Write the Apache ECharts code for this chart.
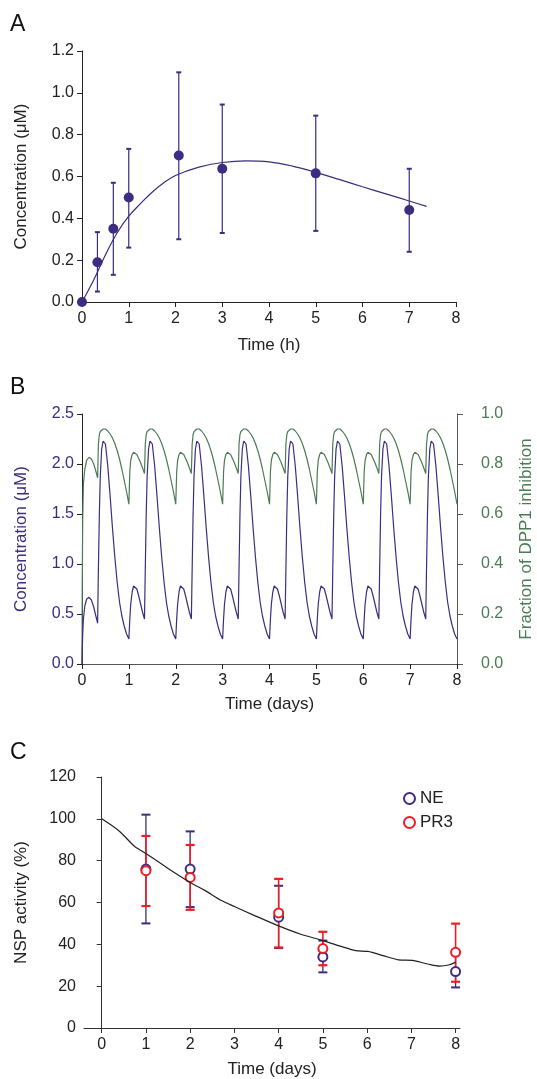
<!DOCTYPE html>
<html><head><meta charset="utf-8">
<script src="https://cdn.jsdelivr.net/npm/echarts@6/dist/echarts.min.js"></script>
<style>html,body{margin:0;padding:0;background:#fff}#c{width:537px;height:1079px}</style>
</head><body><div id="c"></div>
<script>
// ---------- Panel A ----------
const aTime = [0, 0.33, 0.67, 1, 2.07, 3, 5, 7];
const aConc = [0, 0.19, 0.35, 0.50, 0.70, 0.637, 0.615, 0.44];
const aLow  = [null, 0.05, 0.13, 0.26, 0.30, 0.33, 0.34, 0.24];
const aHigh = [null, 0.334, 0.57, 0.732, 1.098, 0.944, 0.891, 0.637];
const aFitTime = [0, 0.25, 0.5, 0.75, 1, 1.25, 1.5, 1.75, 2, 2.5, 3, 3.5, 4, 4.5, 5, 5.5, 6, 6.5, 7, 7.37];
const aFitConc = [0, 0.105, 0.225, 0.33, 0.41, 0.47, 0.525, 0.57, 0.605, 0.645, 0.667, 0.675, 0.67, 0.65, 0.62, 0.586, 0.551, 0.517, 0.483, 0.457];

// ---------- Panel B ----------
const bTime = [
 0, 0.005, 0.015, 0.03, 0.06, 0.10, 0.15, 0.20, 0.25, 0.29, 0.333, 0.35, 0.37, 0.39, 0.42, 0.45, 0.475, 0.5, 0.55, 0.6, 0.65, 0.7, 0.75, 0.8, 0.85, 0.9, 0.95,
 1, 1.02, 1.04, 1.07, 1.1, 1.13, 1.17, 1.21, 1.25, 1.29, 1.333, 1.35, 1.37, 1.39, 1.42, 1.45, 1.475, 1.5, 1.55, 1.6, 1.65, 1.7, 1.75, 1.8, 1.85, 1.9, 1.95,
 2, 2.02, 2.04, 2.07, 2.1, 2.13, 2.17, 2.21, 2.25, 2.29, 2.333, 2.35, 2.37, 2.39, 2.42, 2.45, 2.475, 2.5, 2.55, 2.6, 2.65, 2.7, 2.75, 2.8, 2.85, 2.9, 2.95,
 3, 3.02, 3.04, 3.07, 3.1, 3.13, 3.17, 3.21, 3.25, 3.29, 3.333, 3.35, 3.37, 3.39, 3.42, 3.45, 3.475, 3.5, 3.55, 3.6, 3.65, 3.7, 3.75, 3.8, 3.85, 3.9, 3.95,
 4, 4.02, 4.04, 4.07, 4.1, 4.13, 4.17, 4.21, 4.25, 4.29, 4.333, 4.35, 4.37, 4.39, 4.42, 4.45, 4.475, 4.5, 4.55, 4.6, 4.65, 4.7, 4.75, 4.8, 4.85, 4.9, 4.95,
 5, 5.02, 5.04, 5.07, 5.1, 5.13, 5.17, 5.21, 5.25, 5.29, 5.333, 5.35, 5.37, 5.39, 5.42, 5.45, 5.475, 5.5, 5.55, 5.6, 5.65, 5.7, 5.75, 5.8, 5.85, 5.9, 5.95,
 6, 6.02, 6.04, 6.07, 6.1, 6.13, 6.17, 6.21, 6.25, 6.29, 6.333, 6.35, 6.37, 6.39, 6.42, 6.45, 6.475, 6.5, 6.55, 6.6, 6.65, 6.7, 6.75, 6.8, 6.85, 6.9, 6.95,
 7, 7.02, 7.04, 7.07, 7.1, 7.13, 7.17, 7.21, 7.25, 7.29, 7.333, 7.35, 7.37, 7.39, 7.42, 7.45, 7.475, 7.5, 7.55, 7.6, 7.65, 7.7, 7.75, 7.8, 7.85, 7.9, 7.95,
 8
];
const bConc = [
 0, 0.12, 0.30, 0.45, 0.58, 0.65, 0.667, 0.64, 0.57, 0.49, 0.41, 0.95, 1.5, 1.88, 2.15, 2.23, 2.24, 2.2, 1.98, 1.68, 1.36, 1.07, 0.82, 0.62, 0.48, 0.38, 0.30,
 0.25, 0.45, 0.60, 0.72, 0.78, 0.79, 0.75, 0.68, 0.60, 0.52, 0.45, 0.95, 1.5, 1.88, 2.15, 2.23, 2.24, 2.2, 1.98, 1.68, 1.36, 1.07, 0.82, 0.62, 0.48, 0.38, 0.30,
 0.25, 0.45, 0.60, 0.72, 0.78, 0.79, 0.75, 0.68, 0.60, 0.52, 0.45, 0.95, 1.5, 1.88, 2.15, 2.23, 2.24, 2.2, 1.98, 1.68, 1.36, 1.07, 0.82, 0.62, 0.48, 0.38, 0.30,
 0.25, 0.45, 0.60, 0.72, 0.78, 0.79, 0.75, 0.68, 0.60, 0.52, 0.45, 0.95, 1.5, 1.88, 2.15, 2.23, 2.24, 2.2, 1.98, 1.68, 1.36, 1.07, 0.82, 0.62, 0.48, 0.38, 0.30,
 0.25, 0.45, 0.60, 0.72, 0.78, 0.79, 0.75, 0.68, 0.60, 0.52, 0.45, 0.95, 1.5, 1.88, 2.15, 2.23, 2.24, 2.2, 1.98, 1.68, 1.36, 1.07, 0.82, 0.62, 0.48, 0.38, 0.30,
 0.25, 0.45, 0.60, 0.72, 0.78, 0.79, 0.75, 0.68, 0.60, 0.52, 0.45, 0.95, 1.5, 1.88, 2.15, 2.23, 2.24, 2.2, 1.98, 1.68, 1.36, 1.07, 0.82, 0.62, 0.48, 0.38, 0.30,
 0.25, 0.45, 0.60, 0.72, 0.78, 0.79, 0.75, 0.68, 0.60, 0.52, 0.45, 0.95, 1.5, 1.88, 2.15, 2.23, 2.24, 2.2, 1.98, 1.68, 1.36, 1.07, 0.82, 0.62, 0.48, 0.38, 0.30,
 0.25, 0.45, 0.60, 0.72, 0.78, 0.79, 0.75, 0.68, 0.60, 0.52, 0.45, 0.95, 1.5, 1.88, 2.15, 2.23, 2.24, 2.2, 1.98, 1.68, 1.36, 1.07, 0.82, 0.62, 0.48, 0.38, 0.30,
 0.25
];
const bInhib = [
 0, 0.30, 0.58, 0.72, 0.78, 0.815, 0.827, 0.82, 0.80, 0.775, 0.745, 0.88, 0.918, 0.93, 0.937, 0.94, 0.941, 0.94, 0.932, 0.92, 0.904, 0.882, 0.854, 0.82, 0.78, 0.735, 0.69,
 0.639, 0.77, 0.815, 0.838, 0.847, 0.847, 0.838, 0.822, 0.805, 0.785, 0.762, 0.88, 0.918, 0.93, 0.937, 0.94, 0.941, 0.94, 0.932, 0.92, 0.904, 0.882, 0.854, 0.82, 0.78, 0.735, 0.69,
 0.639, 0.77, 0.815, 0.838, 0.847, 0.847, 0.838, 0.822, 0.805, 0.785, 0.762, 0.88, 0.918, 0.93, 0.937, 0.94, 0.941, 0.94, 0.932, 0.92, 0.904, 0.882, 0.854, 0.82, 0.78, 0.735, 0.69,
 0.639, 0.77, 0.815, 0.838, 0.847, 0.847, 0.838, 0.822, 0.805, 0.785, 0.762, 0.88, 0.918, 0.93, 0.937, 0.94, 0.941, 0.94, 0.932, 0.92, 0.904, 0.882, 0.854, 0.82, 0.78, 0.735, 0.69,
 0.639, 0.77, 0.815, 0.838, 0.847, 0.847, 0.838, 0.822, 0.805, 0.785, 0.762, 0.88, 0.918, 0.93, 0.937, 0.94, 0.941, 0.94, 0.932, 0.92, 0.904, 0.882, 0.854, 0.82, 0.78, 0.735, 0.69,
 0.639, 0.77, 0.815, 0.838, 0.847, 0.847, 0.838, 0.822, 0.805, 0.785, 0.762, 0.88, 0.918, 0.93, 0.937, 0.94, 0.941, 0.94, 0.932, 0.92, 0.904, 0.882, 0.854, 0.82, 0.78, 0.735, 0.69,
 0.639, 0.77, 0.815, 0.838, 0.847, 0.847, 0.838, 0.822, 0.805, 0.785, 0.762, 0.88, 0.918, 0.93, 0.937, 0.94, 0.941, 0.94, 0.932, 0.92, 0.904, 0.882, 0.854, 0.82, 0.78, 0.735, 0.69,
 0.639, 0.77, 0.815, 0.838, 0.847, 0.847, 0.838, 0.822, 0.805, 0.785, 0.762, 0.88, 0.918, 0.93, 0.937, 0.94, 0.941, 0.94, 0.932, 0.92, 0.904, 0.882, 0.854, 0.82, 0.78, 0.735, 0.69,
 0.639
];

// ---------- Panel C ----------
const cDays = [1, 2, 4, 5, 8];
const neMean = [76, 76, 53, 34, 27];
const neLow  = [50, 57.8, 38.2, 26.6, 19.4];
const neHigh = [102, 94, 68, 41.8, 35];
const pr3Mean = [75.2, 72, 55, 38, 36.2];
const pr3Low  = [58.3, 56.5, 38.5, 30, 22.1];
const pr3High = [91.8, 87.5, 71.3, 46, 49.9];
const cFitTime = [0, 0.4, 0.74, 1, 1.5, 2, 2.33, 2.72, 3, 3.42, 4, 4.5, 5, 5.43, 5.74, 6.02, 6.36, 6.71, 7.02, 7.37, 7.64, 7.84, 8];
const cFitAct  = [100, 94.1, 86.9, 83.4, 76.3, 69.6, 65.8, 60.8, 58.1, 54.1, 48.8, 44.8, 41.8, 38.9, 37.0, 36.6, 34.6, 32.6, 32.3, 30.6, 29.6, 30.1, 31.5];
const cXTicks = [0, 1, 2, 3, 4, 5, 6, 7, 8];

const PURPLE = '#3d2c80', GREEN = '#4b7b53', RED = '#ee1c24', INK = '#222';
const FONT = '"Liberation Sans", Arial, sans-serif';

function errBar(capW, color, lw, capLw) {
  return function (params, api) {
    const x = api.value(0), lo = api.value(1), hi = api.value(2);
    const p1 = api.coord([x, lo]), p2 = api.coord([x, hi]);
    return {type: 'group', children: [
      {type: 'line', shape: {x1: p1[0], y1: p1[1], x2: p2[0], y2: p2[1]}, style: {stroke: color, lineWidth: lw}},
      {type: 'line', shape: {x1: p1[0] - capW / 2, y1: p1[1], x2: p1[0] + capW / 2, y2: p1[1]}, style: {stroke: color, lineWidth: capLw}},
      {type: 'line', shape: {x1: p2[0] - capW / 2, y1: p2[1], x2: p2[0] + capW / 2, y2: p2[1]}, style: {stroke: color, lineWidth: capLw}}
    ]};
  };
}
const zip2 = (a, b) => a.map((v, i) => [v, b[i]]);
const zip3 = (a, b, c) => a.map((v, i) => [v, b[i], c[i]]);

const lbl = (color, margin, dec) => ({color: color, fontSize: 16, fontFamily: FONT, margin: margin,
  formatter: v => dec ? Number(v).toFixed(dec) : String(v)});
const nm = (color) => ({color: color, fontSize: 17, fontFamily: FONT});
const axLine = (c) => ({show: true, lineStyle: {color: c, width: 1}});
const tick = (c, len) => ({show: true, length: len || 5, lineStyle: {color: c}});

const option = {
  animation: false,
  textStyle: {fontFamily: FONT},
  grid: [
    {left: 82, top: 51, width: 374, height: 251, containLabel: false, outerBoundsMode: 'none'},
    {left: 82, top: 414, width: 375, height: 250, containLabel: false, outerBoundsMode: 'none'},
    {left: 84, top: 777, width: 376, height: 251, containLabel: false, outerBoundsMode: 'none'}
  ],
  xAxis: [
    {gridIndex: 0, type: 'value', min: 0, max: 8, interval: 1, axisLine: axLine(INK), axisTick: tick(INK), splitLine: {show: false},
     axisLabel: lbl(INK, 9), name: 'Time (h)', nameLocation: 'middle', nameGap: 35, nameTextStyle: nm(INK)},
    {gridIndex: 1, type: 'value', min: 0, max: 8, interval: 1, axisLine: axLine('#555'), axisTick: tick(INK), splitLine: {show: false},
     axisLabel: lbl(INK, 9), name: 'Time (days)', nameLocation: 'middle', nameGap: 32, nameTextStyle: nm(INK)},
    {gridIndex: 2, type: 'value', min: -0.4, max: 8.1, axisLine: axLine('#333'), splitLine: {show: false},
     axisTick: Object.assign(tick('#333'), {customValues: cXTicks}),
     axisLabel: Object.assign(lbl(INK, 9), {customValues: cXTicks}),
     name: 'Time (days)', nameLocation: 'middle', nameGap: 33, nameTextStyle: nm(INK)}
  ],
  yAxis: [
    {gridIndex: 0, type: 'value', min: 0, max: 1.2, interval: 0.2, axisLine: axLine(INK), axisTick: tick(INK), splitLine: {show: false},
     axisLabel: lbl(INK, 8, 1), name: 'Concentration (μM)', nameLocation: 'middle', nameRotate: 90, nameGap: 52, nameTextStyle: nm(INK)},
    {gridIndex: 1, type: 'value', position: 'left', min: 0, max: 2.5, interval: 0.5, axisLine: axLine(INK), axisTick: tick(INK), splitLine: {show: false},
     axisLabel: lbl(PURPLE, 8, 1), name: 'Concentration (μM)', nameLocation: 'middle', nameRotate: 90, nameGap: 52, nameTextStyle: nm(PURPLE)},
    {gridIndex: 1, type: 'value', position: 'right', min: 0, max: 1, interval: 0.2, axisLine: axLine('#555'), axisTick: tick('#555', 6), splitLine: {show: false},
     axisLabel: lbl(GREEN, 24, 1), name: 'Fraction of DPP1 inhibition', nameLocation: 'middle', nameRotate: 90, nameGap: 61, nameTextStyle: nm(GREEN)},
    {gridIndex: 2, type: 'value', min: 0, max: 120, interval: 20, axisLine: axLine('#333'), axisTick: tick('#333'), splitLine: {show: false},
     axisLabel: lbl(INK, 8), name: 'NSP activity (%)', nameLocation: 'middle', nameRotate: 90, nameGap: 54, nameTextStyle: nm(INK)}
  ],
  legend: {
    orient: 'vertical', left: 398, top: 785, itemWidth: 11, itemHeight: 11, itemGap: 7, itemTextGap: 7,
    textStyle: {fontSize: 17, fontFamily: FONT, color: INK},
    data: ['NE', 'PR3']
  },
  graphic: [
    {type: 'text', left: 10, top: 13, style: {text: 'A', fontSize: 23, fontFamily: FONT, fill: '#111'}},
    {type: 'text', left: 10, top: 376, style: {text: 'B', fontSize: 23, fontFamily: FONT, fill: '#111'}},
    {type: 'text', left: 10, top: 741, style: {text: 'C', fontSize: 23, fontFamily: FONT, fill: '#111'}}
  ],
  series: [
    // A
    {type: 'line', xAxisIndex: 0, yAxisIndex: 0, data: zip2(aFitTime, aFitConc), smooth: 0.4, showSymbol: false,
     lineStyle: {color: PURPLE, width: 1.2}, silent: true},
    {type: 'custom', xAxisIndex: 0, yAxisIndex: 0, renderItem: errBar(5, PURPLE, 1.2, 2),
     data: zip3(aTime, aLow, aHigh).filter(d => d[1] != null), encode: {x: 0, y: [1, 2]}, silent: true},
    {type: 'scatter', xAxisIndex: 0, yAxisIndex: 0, data: zip2(aTime, aConc), symbol: 'circle', symbolSize: 10,
     itemStyle: {color: PURPLE, opacity: 1}, silent: true},
    // B
    {type: 'line', xAxisIndex: 1, yAxisIndex: 2, data: zip2(bTime, bInhib), showSymbol: false,
     lineStyle: {color: GREEN, width: 1.2}, silent: true},
    {type: 'line', xAxisIndex: 1, yAxisIndex: 1, data: zip2(bTime, bConc), showSymbol: false,
     lineStyle: {color: PURPLE, width: 1.2}, silent: true},
    // C
    {type: 'line', xAxisIndex: 2, yAxisIndex: 3, data: zip2(cFitTime, cFitAct), smooth: 0.3, showSymbol: false,
     lineStyle: {color: INK, width: 1.2}, silent: true},
    {type: 'custom', xAxisIndex: 2, yAxisIndex: 3, renderItem: errBar(9, PURPLE, 1.3, 2),
     data: zip3(cDays, neLow, neHigh), encode: {x: 0, y: [1, 2]}, silent: true},
    {type: 'custom', xAxisIndex: 2, yAxisIndex: 3, renderItem: errBar(9, RED, 1.6, 2.2),
     data: zip3(cDays, pr3Low, pr3High), encode: {x: 0, y: [1, 2]}, silent: true},
    {name: 'NE', type: 'scatter', xAxisIndex: 2, yAxisIndex: 3, data: zip2(cDays, neMean), symbol: 'emptyCircle', symbolSize: 9,
     itemStyle: {color: PURPLE, borderColor: PURPLE, borderWidth: 1.1, opacity: 1}, silent: true},
    {name: 'PR3', type: 'scatter', xAxisIndex: 2, yAxisIndex: 3, data: zip2(cDays, pr3Mean), symbol: 'emptyCircle', symbolSize: 9,
     itemStyle: {color: RED, borderColor: RED, borderWidth: 1.3, opacity: 1}, silent: true}
  ]
};
const chart = echarts.init(document.getElementById('c'), null, {renderer: 'canvas'});
chart.setOption(option);
</script></body></html>
